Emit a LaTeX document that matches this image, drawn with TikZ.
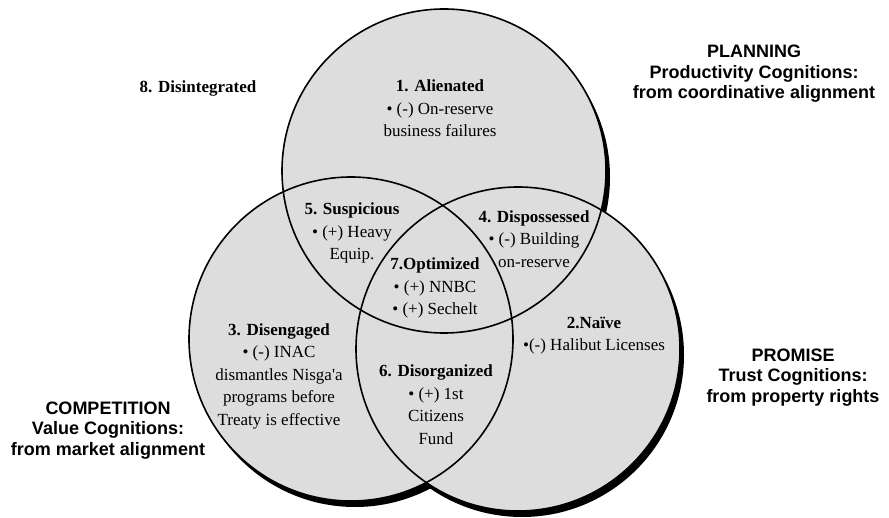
\documentclass[tikz,border=0pt]{standalone}
\usepackage{fontspec}
\setmainfont{Liberation Serif}
\newfontfamily\arialf{Liberation Sans}
\definecolor{venngray}{RGB}{221,221,221}
\begin{document}
\begin{tikzpicture}[x=1pt,y=-1pt,
  ring/.style={line width=1.6pt},
  lab/.style={align=center,font=\fontsize{17}{22.5}\selectfont,inner sep=0pt},
  head/.style={align=center,font=\arialf\bfseries\fontsize{18}{20.5}\selectfont,inner sep=0pt}]
\useasboundingbox (0,0) rectangle (889,518);
\coordinate (cT) at (444,171);
\coordinate (cL) at (351,339);
\coordinate (cR) at (518,349);
\foreach \c in {cT,cL,cR} \fill[black] ([shift={(4,6)}]\c) circle (162pt);
\foreach \c in {cT,cL,cR} \fill[venngray] (\c) circle (162pt);
\foreach \c in {cT,cL,cR} \draw[ring] (\c) circle (162pt);

\node[lab] (n1) at (440,108.5) {\textbf{1. Alienated}\\• (-) On-reserve\\business failures};
\node[lab] (n5) at (352,233) {\textbf{5. Suspicious}\\• (+) Heavy\\Equip.};
\node[lab] (n4) at (534,239) {\textbf{4. Dispossessed}\\• (-) Building\\on-reserve};
\node[lab] (n7) at (435,288) {\textbf{7.Optimized}\\• (+) NNBC\\• (+) Sechelt};
\node[lab] (n2) at (594,335.5) {\textbf{2.Naïve}\\•(-) Halibut Licenses};
\node[lab] (n3) at (279,376) {\textbf{3. Disengaged}\\• (-) INAC\\dismantles Nisga\textquotesingle a\\programs before\\Treaty is effective};
\node[lab] (n6) at (436,404.5) {\textbf{6. Disorganized}\\• (+) 1st\\Citizens\\Fund};
\node[lab] (n8) at (198,88) {\textbf{8. Disintegrated}};

\node[head] (hp) at (754,74) {PLANNING\\Productivity Cognitions:\\from coordinative alignment};
\node[head] (hr) at (793,377.5) {PROMISE\\Trust Cognitions:\\from property rights};
\node[head] (hc) at (108,430.5) {COMPETITION\\Value Cognitions:\\from market alignment};
\end{tikzpicture}
\end{document}
